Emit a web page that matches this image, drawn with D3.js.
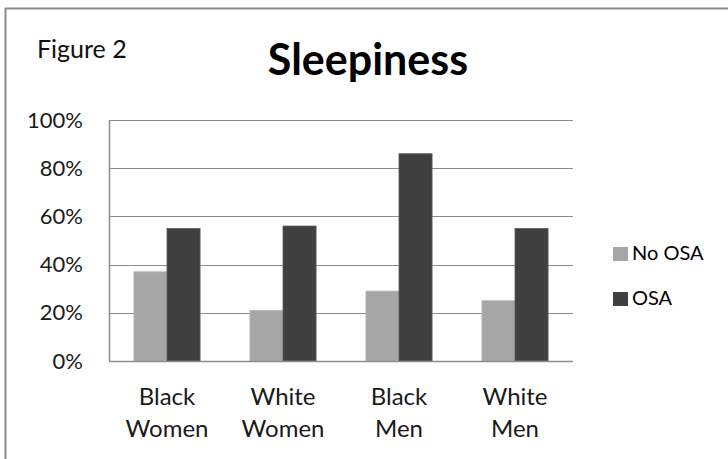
<!DOCTYPE html>
<html><head><meta charset="utf-8">
<script src="https://cdn.jsdelivr.net/npm/d3@7"></script>
<style>body{margin:0;background:#fff}svg{display:block}text{font-family:Lato,"Open Sans",sans-serif}</style>
</head><body>
<script>
const categories = [["Black","Women"],["White","Women"],["Black","Men"],["White","Men"]];
const seriesNames = ["No OSA","OSA"];
const noOSA = [37, 21, 29, 25];
const osa = [55, 56, 86, 55];
const yTicks = [0,20,40,60,80,100];
const colors = ["#a6a6a6","#404040"];

const W=728,H=459;
const svg=d3.select("body").append("svg").attr("width",W).attr("height",H);
svg.append("rect").attr("x",5.5).attr("y",8.5).attr("width",740).attr("height",470).attr("fill","#fff").attr("stroke","#8c8c8c").attr("stroke-width",2);

const L=109,R=573,T=120,B=361;
const x0=d3.scaleBand().domain(d3.range(categories.length)).range([L,R]).paddingInner(0.43).paddingOuter(0.215);
const x1=d3.scaleBand().domain([0,1]).range([0,x0.bandwidth()]);
const y=d3.scaleLinear().domain([0,100]).range([B,T]);

// gridlines
svg.append("g").selectAll("line").data(yTicks.filter(d=>d>0)).join("line")
 .attr("x1",L).attr("x2",R).attr("y1",d=>Math.round(y(d))+0.5).attr("y2",d=>Math.round(y(d))+0.5)
 .attr("stroke","#8c8c8c").attr("stroke-width",1);

const data=categories.map((c,i)=>[noOSA[i],osa[i]]);
const g=svg.append("g").selectAll("g").data(data).join("g").attr("transform",(d,i)=>`translate(${x0(i)},0)`);
g.selectAll("rect").data(d=>d).join("rect")
 .attr("x",(d,j)=>x1(j)).attr("width",x1.bandwidth())
 .attr("y",d=>y(d)).attr("height",d=>B-y(d))
 .attr("fill",(d,j)=>colors[j]).attr("stroke",(d,j)=>j?"#5a5a5a":"#b5b5b5").attr("stroke-width",0.8);

// axes
const yAxis=d3.axisLeft(y).tickValues(yTicks).tickFormat(d=>d+"%").tickSize(0).tickPadding(26);
const ya=svg.append("g").attr("transform",`translate(${L},0)`).call(yAxis);
ya.select(".domain").attr("stroke","#8c8c8c").attr("stroke-width",1.5);
ya.selectAll("text").attr("font-size",22).attr("fill","#1a1a1a").attr("font-family","Lato,sans-serif");

svg.append("line").attr("x1",L).attr("x2",R).attr("y1",B+0.5).attr("y2",B+0.5).attr("stroke","#8c8c8c").attr("stroke-width",1.5);

const xl=svg.append("g").selectAll("text").data(categories).join("text")
 .attr("x",(d,i)=>x0(i)+x0.bandwidth()/2).attr("text-anchor","middle")
 .attr("font-size",24).attr("fill","#1a1a1a");
xl.selectAll("tspan").data(d=>d).join("tspan").attr("x",function(){return this.parentNode.getAttribute("x");})
 .attr("y",(d,k)=>405+k*32).text(d=>d);

// titles
svg.append("text").attr("x",37).attr("y",58).attr("font-size",25).attr("fill","#111").text("Figure 2");
svg.append("text").attr("x",368).attr("y",75).attr("text-anchor","middle").attr("font-size",43).attr("font-weight","bold").attr("fill","#000").text("Sleepiness");

// legend
const lg=svg.append("g").selectAll("g").data(seriesNames).join("g").attr("transform",(d,i)=>`translate(613,${247+i*45})`);
lg.append("rect").attr("width",15).attr("height",14).attr("fill",(d,i)=>colors[i]);
lg.append("text").attr("x",19).attr("y",13).attr("font-size",20).attr("fill","#000").text(d=>d);
</script>
</body></html>
